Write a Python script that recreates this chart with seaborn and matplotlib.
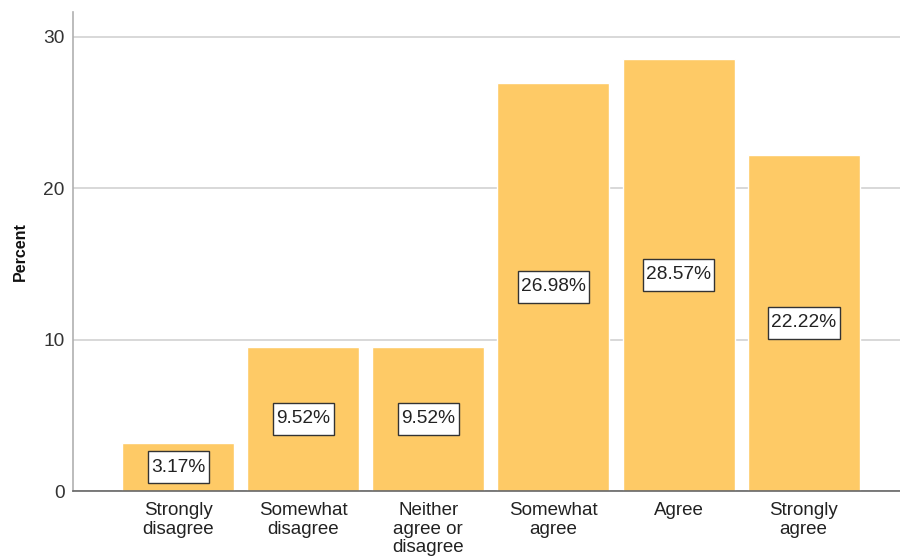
import matplotlib
matplotlib.use("Agg")
import matplotlib.pyplot as plt
from matplotlib.path import Path
import seaborn as sns
import pandas as pd

categories = ["Strongly\ndisagree", "Somewhat\ndisagree", "Neither\nagree or\ndisagree",
              "Somewhat\nagree", "Agree", "Strongly\nagree"]
percents = [3.17, 9.52, 9.52, 26.98, 28.57, 22.22]
y_ticks = [0, 10, 20, 30]

sns.set_theme(style="white")
plt.rcParams["font.family"] = ["Liberation Sans", "DejaVu Sans"]

df = pd.DataFrame({"category": categories, "percent": percents})


def label_box(x0, y0, width, height, mutation_size):
    """Rectangle around a value label, with more padding above and below."""
    padx = 0.18 * mutation_size
    pady = 0.40 * mutation_size
    x0, y0 = x0 - padx, y0 - pady
    x1, y1 = x0 + width + 2 * padx, y0 + height + 2 * pady
    return Path([(x0, y0), (x1, y0), (x1, y1), (x0, y1), (x0, y0)], closed=True)


fig = plt.figure(figsize=(9, 5.58), dpi=100)
ax = fig.add_axes([73 / 900, 67 / 558, 827 / 900, 479 / 558])

ax.yaxis.grid(True, color="#d2d2d2", linewidth=1.2)
ax.set_axisbelow(True)

sns.barplot(data=df, x="category", y="percent", color="#FECA66", saturation=1,
            width=0.895, ax=ax, zorder=2)

for i, v in enumerate(percents):
    ax.text(i, v / 2, f"{v:.2f}%", ha="center", va="center", fontsize=13.8,
            color="#222222", zorder=4,
            bbox=dict(boxstyle=label_box, facecolor="white",
                      edgecolor="#333333", linewidth=1.0))

ax.set_xlim(-0.84, 5.77)
ax.set_ylim(0, 31.65)
ax.set_yticks(y_ticks)
ax.tick_params(axis="y", labelsize=13.8, labelcolor="#333333", length=0, pad=6)
ax.tick_params(axis="x", labelsize=13.5, labelcolor="#222222", length=0, pad=8)
for lbl in ax.get_xticklabels():
    lbl.set_linespacing(1.12)

ax.set_xlabel("")
ax.set_ylabel("Percent", fontsize=11.5, fontweight="bold", color="#111111", labelpad=11)

for side in ["top", "right"]:
    ax.spines[side].set_visible(False)
ax.spines["left"].set_color("#b0b0b0")
ax.spines["left"].set_linewidth(1.2)
ax.spines["bottom"].set_color("#666666")
ax.spines["bottom"].set_linewidth(1.2)
ax.spines["bottom"].set_zorder(5)

fig.savefig("out.png", dpi=100, facecolor="white")
